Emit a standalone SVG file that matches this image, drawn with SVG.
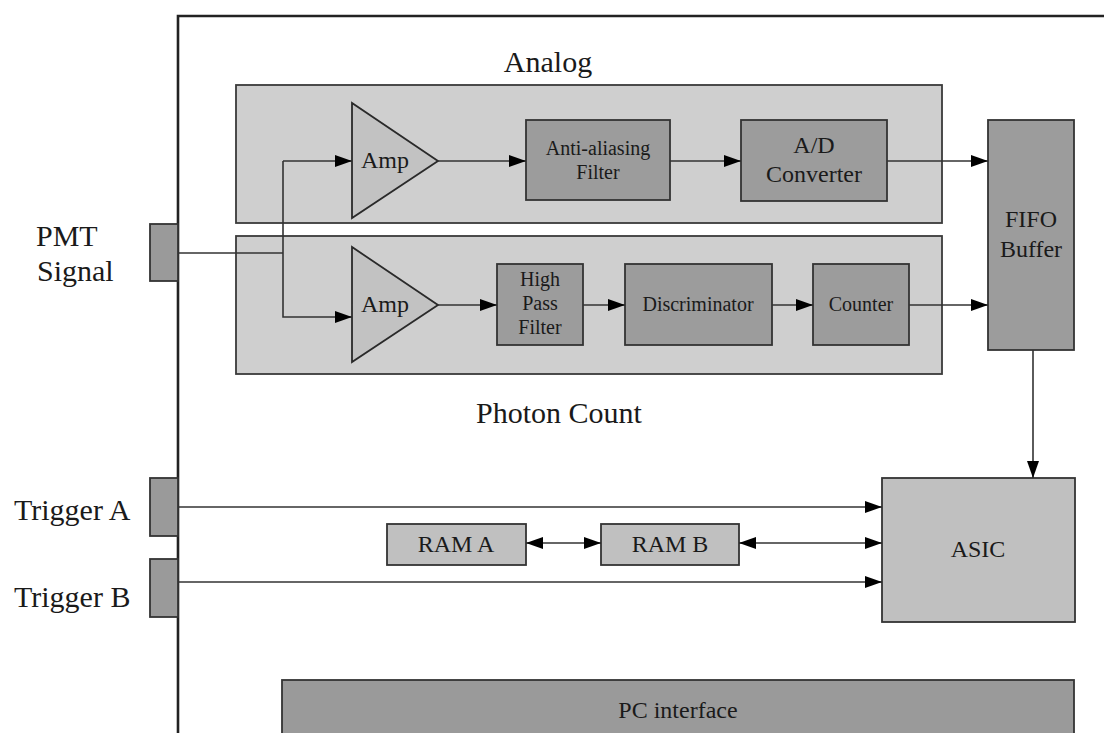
<svg xmlns="http://www.w3.org/2000/svg" width="1104" height="733" viewBox="0 0 1104 733" font-family="'Liberation Serif','Times New Roman',serif">
<defs>
<marker id="ah" markerUnits="userSpaceOnUse" markerWidth="18" markerHeight="14" refX="17" refY="7" orient="auto-start-reverse">
<path d="M0,1 L17,7 L0,13 z" fill="#000"/>
</marker>
<style>
text{font-family:"Liberation Serif","Times New Roman",serif;fill:#1a1a1a;text-anchor:middle}
.big{font-size:30px;font-family:"Liberation Serif",serif}
.m{font-size:24px;font-family:"Liberation Serif",serif}
.s{font-size:20px;font-family:"Liberation Serif",serif}
.grp{fill:#cfcfcf;stroke:#3a3a3a;stroke-width:1.8}
.amp{fill:#c2c2c2;stroke:#2a2a2a;stroke-width:1.8}
.dk{fill:#9c9c9c;stroke:#333;stroke-width:1.8}
.lt{fill:#c0c0c0;stroke:#333;stroke-width:1.8}
.port{fill:#9a9a9a;stroke:#333;stroke-width:1.8}
.ln{fill:none;stroke:#333;stroke-width:1.6}
.ar{fill:none;stroke:#333;stroke-width:1.6;marker-end:url(#ah)}
.ar2{fill:none;stroke:#333;stroke-width:1.6;marker-end:url(#ah);marker-start:url(#ah)}
</style>
</defs>
<rect width="1104" height="733" fill="#fff"/>
<path d="M178,733 V16 H1104" fill="none" stroke="#222" stroke-width="2.6"/>

<g id="analog">
<rect class="grp" x="236" y="85" width="706" height="138"/>
<text class="big" x="548" y="72">Analog</text>
</g>
<g id="photon">
<rect class="grp" x="236" y="236" width="706" height="138"/>
<text class="big" x="559" y="423">Photon Count</text>
</g>

<g id="pmt">
<rect class="port" x="150" y="224" width="28" height="57"/>
<text class="big" x="36" y="246" style="text-anchor:start">PMT</text>
<text class="big" x="37" y="281" style="text-anchor:start">Signal</text>
</g>
<g id="trigA">
<rect class="port" x="150" y="478" width="28" height="58"/>
<text class="big" x="14" y="520" style="text-anchor:start">Trigger A</text>
</g>
<g id="trigB">
<rect class="port" x="150" y="559" width="28" height="58"/>
<text class="big" x="14" y="607" style="text-anchor:start">Trigger B</text>
</g>

<g id="amp1">
<polygon class="amp" points="352,103 352,218 438,161"/>
<text class="m" x="385" y="168">Amp</text>
</g>
<g id="amp2">
<polygon class="amp" points="352,247 352,362 438,305"/>
<text class="m" x="385" y="312">Amp</text>
</g>
<g id="aaf">
<rect class="dk" x="526" y="120" width="144" height="80"/>
<text class="s" x="598" y="155">Anti-aliasing</text>
<text class="s" x="598" y="179">Filter</text>
</g>
<g id="adc">
<rect class="dk" x="741" y="120" width="146" height="81"/>
<text class="m" x="814" y="153">A/D</text>
<text class="m" x="814" y="182">Converter</text>
</g>
<g id="fifo">
<rect class="dk" x="988" y="120" width="86" height="230"/>
<text class="m" x="1031" y="227">FIFO</text>
<text class="m" x="1031" y="257">Buffer</text>
</g>
<g id="hpf">
<rect class="dk" x="497" y="264" width="86" height="81"/>
<text class="s" x="540" y="286">High</text>
<text class="s" x="540" y="310">Pass</text>
<text class="s" x="540" y="334">Filter</text>
</g>
<g id="disc">
<rect class="dk" x="625" y="264" width="147" height="81"/>
<text class="s" x="698" y="311">Discriminator</text>
</g>
<g id="counter">
<rect class="dk" x="813" y="264" width="96" height="81"/>
<text class="s" x="861" y="311">Counter</text>
</g>
<g id="asic">
<rect class="lt" x="882" y="478" width="193" height="144"/>
<text class="m" x="978" y="557">ASIC</text>
</g>
<g id="ramA">
<rect class="lt" x="387" y="524" width="139" height="41"/>
<text class="m" x="456" y="552">RAM A</text>
</g>
<g id="ramB">
<rect class="lt" x="601" y="524" width="138" height="41"/>
<text class="m" x="670" y="552">RAM B</text>
</g>
<g id="pc">
<rect class="port" x="282" y="680" width="792" height="60"/>
<text class="m" x="678" y="718">PC interface</text>
</g>

<g id="connectors">
<path class="ln" d="M178,253 H283"/>
<path class="ar" d="M283,161 V317 H352"/>
<path class="ar" d="M283,161 H352"/>
<path class="ar" d="M438,161 H526"/>
<path class="ar" d="M670,161 H741"/>
<path class="ar" d="M887,161 H988"/>
<path class="ar" d="M438,305 H497"/>
<path class="ar" d="M583,305 H625"/>
<path class="ar" d="M772,305 H813"/>
<path class="ar" d="M909,305 H988"/>
<path class="ar" d="M1033,350 V478"/>
<path class="ar" d="M178,507 H882"/>
<path class="ar" d="M178,582 H882"/>
<path class="ar2" d="M526,543 H601"/>
<path class="ar2" d="M739,543 H882"/>
</g>
</svg>
